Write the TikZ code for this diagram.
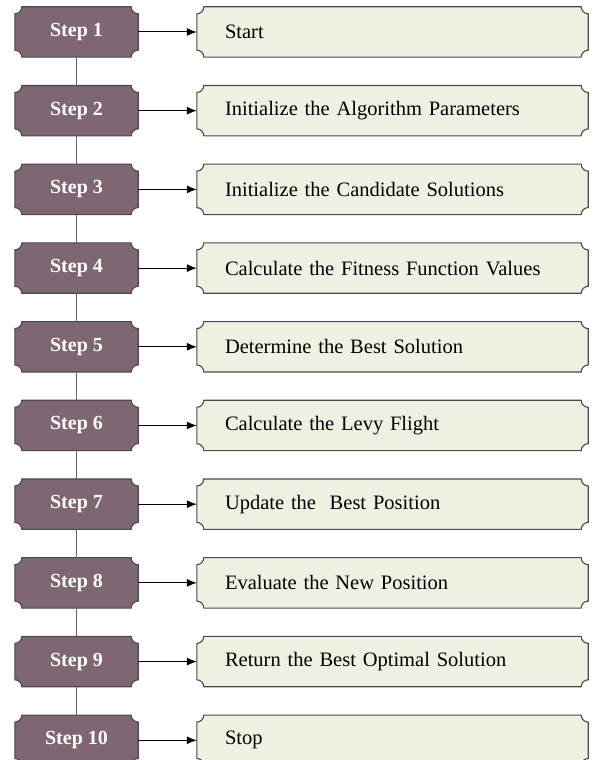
\documentclass[tikz,border=0pt]{standalone}
\usepackage{fontspec}
\setmainfont{Liberation Serif}
\usetikzlibrary{arrows.meta,backgrounds}

\definecolor{stepfill}{HTML}{7E6673}
\definecolor{taskfill}{HTML}{EFEFE2}
\definecolor{edgegrey}{HTML}{4A4A4A}

\tikzset{
  stepnode/.style={minimum width=123pt, minimum height=50pt, inner sep=0pt,
    text=white, font=\fontsize{20}{24}\selectfont\bfseries},
  tasknode/.style={minimum width=391pt, minimum height=50pt, inner ysep=0pt,
    inner xsep=28pt, text width=335pt, align=left,
    font=\fontsize{20.5}{24}\selectfont},
}

% box with inward rounded corners round a named node
\newcommand{\scallopbox}[2]{%
  \draw [#2, line width=1.1pt, draw=edgegrey]
    ([xshift=7pt]#1.north west) -- ([xshift=-7pt]#1.north east)
    arc [start angle=180, end angle=270, radius=7pt]
    -- ([yshift=7pt]#1.south east)
    arc [start angle=90, end angle=180, radius=7pt]
    -- ([xshift=7pt]#1.south west)
    arc [start angle=0, end angle=90, radius=7pt]
    -- ([yshift=-7pt]#1.north west)
    arc [start angle=270, end angle=360, radius=7pt] -- cycle;}

\begin{document}
\begin{tikzpicture}[x=1pt, y=1pt, >={Latex[length=10pt,width=8pt]}]
        \useasboundingbox (0,0) rectangle (592,760);
        \node [stepnode] (S1) at (76.5,728) {Step 1};
        \node [stepnode] (S2) at (76.5,649.3) {Step 2};
        \node [stepnode] (S3) at (76.5,570.6) {Step 3};
        \node [stepnode] (S4) at (76.5,491.9) {Step 4};
        \node [stepnode] (S5) at (76.5,413.2) {Step 5};
        \node [stepnode] (S6) at (76.5,334.5) {Step 6};
        \node [stepnode] (S7) at (76.5,255.8) {Step 7};
        \node [stepnode] (S8) at (76.5,177.1) {Step 8};
        \node [stepnode] (S9) at (76.5,98.4) {Step 9};
        \node [stepnode] (S10) at (76.5,19.7) {Step 10};
        \node [tasknode] (T1) at (392.5,728) {Start};
        \node [tasknode] (T2) at (392.5,649.3) {Initialize the Algorithm Parameters};
        \node [tasknode] (T3) at (392.5,570.6) {Initialize the Candidate Solutions};
        \node [tasknode] (T4) at (392.5,491.9) {Calculate the Fitness Function Values};
        \node [tasknode] (T5) at (392.5,413.2) {Determine the Best Solution};
        \node [tasknode] (T6) at (392.5,334.5) {Calculate the Levy Flight};
        \node [tasknode] (T7) at (392.5,255.8) {Update the~~Best Position};
        \node [tasknode] (T8) at (392.5,177.1) {Evaluate the New Position};
        \node [tasknode] (T9) at (392.5,98.4) {Return the Best Optimal Solution};
        \node [tasknode] (T10) at (392.5,19.7) {Stop};
        \begin{scope}[on background layer]
          \foreach \i in {1,...,10} {
            \scallopbox{S\i}{fill=stepfill}
            \scallopbox{T\i}{fill=taskfill}
          }
        \end{scope}
        % spine between the steps
        \foreach \i [evaluate=\i as \j using int(\i+1)] in {1,...,9}
          \draw [edgegrey!85, line width=1.4pt] (S\i) -- (S\j);
        \foreach \i in {1,...,10}
          \draw [black, line width=1pt] [->] (S\i) -- (T\i);
      \end{tikzpicture}
\end{document}
